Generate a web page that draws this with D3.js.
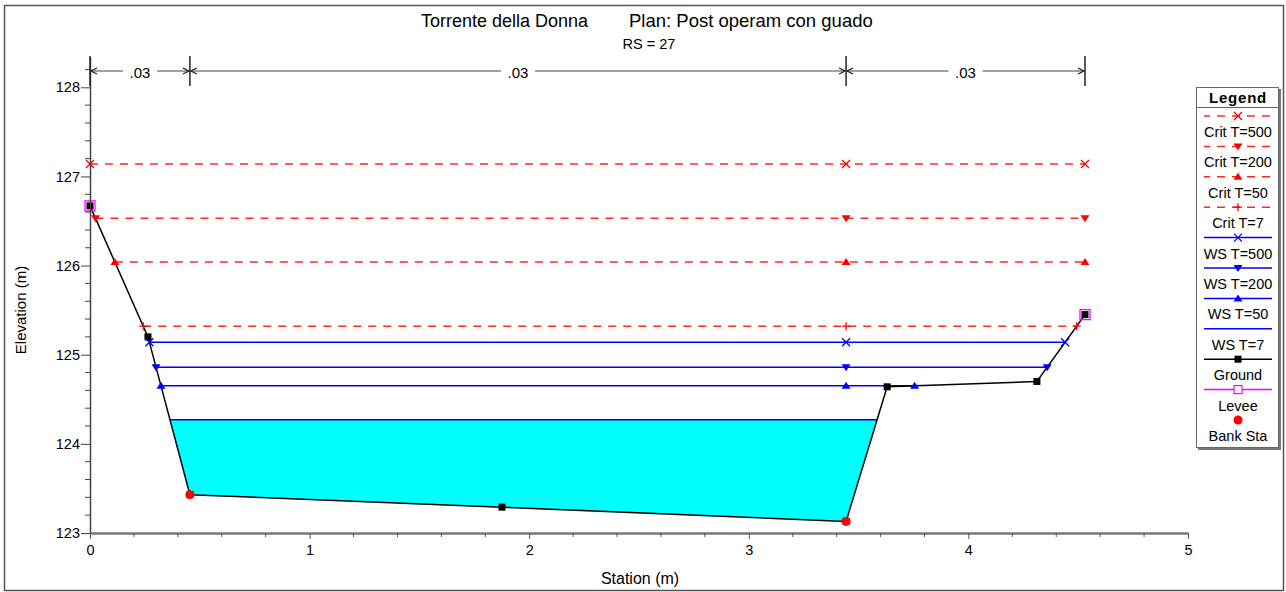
<!DOCTYPE html>
<html><head><meta charset="utf-8">
<script src="https://cdn.jsdelivr.net/npm/d3@7"></script>
<style>body{margin:0;background:#fff}svg{display:block;font-family:"Liberation Sans",Arial,sans-serif}</style>
</head><body><svg id="c" width="1286" height="592"></svg>
<script>
// ---- data ----
const groundSta = [0, 0.264, 0.455, 1.876, 3.443, 3.63, 4.312, 4.531];
const groundElev = [126.67, 125.20, 123.43, 123.29, 123.13, 124.64, 124.70, 125.45];
const levees = [[0, 126.67], [4.531, 125.45]];
const bankSta = [0.455, 3.443];
const nStations = [0, 0.455, 3.443, 4.531];
const nValues = [".03", ".03", ".03"];
const profileNames = ["Crit T=500", "Crit T=200", "Crit T=50", "Crit T=7", "WS T=500", "WS T=200", "WS T=50", "WS T=7"];
const profileElev = [127.14, 126.53, 126.04, 125.32, 125.14, 124.86, 124.651, 124.27];
const profileKind = ["crit", "crit", "crit", "crit", "ws", "ws", "ws", "ws"];
const profileMarker = ["x", "down", "up", "plus", "x", "down", "up", "none"];
const xTicks = [0, 1, 2, 3, 4, 5];
const yTicks = [123, 124, 125, 126, 127, 128];
const legendNames = ["Crit T=500", "Crit T=200", "Crit T=50", "Crit T=7", "WS T=500", "WS T=200", "WS T=50", "WS T=7", "Ground", "Levee", "Bank Sta"];

// ---- setup ----
const svg = d3.select("#c");
const x = d3.scaleLinear().domain([0, 5]).range([90, 1188]);
const y = d3.scaleLinear().domain([123, 128.34]).range([533, 57]);
const ground = groundSta.map((s, i) => [s, groundElev[i]]);

svg.append("rect").attr("x", 4.5).attr("y", 5.5).attr("width", 1279).attr("height", 585)
  .attr("fill", "none").attr("stroke", "#555").attr("stroke-width", 1.5);

// titles
svg.append("text").attr("x", 421).attr("y", 27).attr("font-size", 18).text("Torrente della Donna");
svg.append("text").attr("x", 629).attr("y", 27).attr("font-size", 18.5).text("Plan: Post operam con guado");
svg.append("text").attr("x", 649).attr("y", 49).attr("font-size", 14.5).attr("text-anchor", "middle").text("RS = 27");

// intersections
function leftEnd(h) {
  if (ground[0][1] <= h) return ground[0][0];
  for (let i = 0; i < ground.length - 1; i++) {
    const a = ground[i], b = ground[i + 1];
    if (a[1] > h && b[1] <= h) return a[0] + (a[1] - h) / (a[1] - b[1]) * (b[0] - a[0]);
  }
}
function rightEnd(h) {
  const n = ground.length;
  if (ground[n - 1][1] <= h) return ground[n - 1][0];
  for (let i = n - 1; i > 0; i--) {
    const a = ground[i], b = ground[i - 1];
    if (a[1] > h && b[1] <= h) return a[0] + (a[1] - h) / (a[1] - b[1]) * (b[0] - a[0]);
  }
}

const g = svg.append("g");
// water fill for lowest WS
{
  const i = profileNames.indexOf("WS T=7");
  const h = profileElev[i], xl = leftEnd(h), xr = rightEnd(h);
  const pts = [[xl, h]].concat(ground.filter(p => p[0] > xl && p[0] < xr)).concat([[xr, h]]);
  g.append("path").attr("d", d3.line().x(d => x(d[0])).y(d => y(d[1]))(pts) + "Z").attr("fill", "#00FFFF");
}

// markers
function marker(sel, type, cx, cy, color) {
  const s = 4;
  if (type === "x") {
    sel.append("path").attr("d", `M${cx - s},${cy - s}L${cx + s},${cy + s}M${cx - s},${cy + s}L${cx + s},${cy - s}`)
      .attr("stroke", color).attr("stroke-width", 1.3).attr("fill", "none");
  } else if (type === "plus") {
    sel.append("path").attr("d", `M${cx - s},${cy}L${cx + s},${cy}M${cx},${cy - s}L${cx},${cy + s}`)
      .attr("stroke", color).attr("stroke-width", 1.3).attr("fill", "none");
  } else if (type === "down") {
    sel.append("path").attr("d", `M${cx - 4.5},${cy - 3}L${cx + 4.5},${cy - 3}L${cx},${cy + 4}Z`).attr("fill", color);
  } else if (type === "up") {
    sel.append("path").attr("d", `M${cx - 4.5},${cy + 3}L${cx + 4.5},${cy + 3}L${cx},${cy - 4}Z`).attr("fill", color);
  } else if (type === "square") {
    sel.append("rect").attr("x", cx - 3.5).attr("y", cy - 3.5).attr("width", 7).attr("height", 7).attr("fill", color);
  } else if (type === "osquare") {
    sel.append("rect").attr("x", cx - 5).attr("y", cy - 5).attr("width", 10).attr("height", 10)
      .attr("fill", "none").attr("stroke", color).attr("stroke-width", 1.3);
  } else if (type === "dot") {
    sel.append("circle").attr("cx", cx).attr("cy", cy).attr("r", 4.5).attr("fill", color);
  }
}
const critColor = "#FF0000", wsColor = "#0000FF";

// profile lines
profileNames.forEach((name, i) => {
  const h = profileElev[i], xl = leftEnd(h), xr = rightEnd(h);
  const col = profileKind[i] === "crit" ? critColor : wsColor;
  const ln = g.append("line").attr("x1", x(xl)).attr("x2", x(xr)).attr("y1", y(h)).attr("y2", y(h))
    .attr("stroke", col).attr("stroke-width", 1.5);
  if (profileKind[i] === "crit") ln.attr("stroke-dasharray", "8,7").attr("stroke-opacity", 0.85);
});

// ground
g.append("path").attr("d", d3.line().x(d => x(d[0])).y(d => y(d[1]))(ground))
  .attr("fill", "none").attr("stroke", "#000").attr("stroke-width", 1.5);

// profile markers
profileNames.forEach((name, i) => {
  if (profileMarker[i] === "none") return;
  const h = profileElev[i], xl = leftEnd(h), xr = rightEnd(h);
  const col = profileKind[i] === "crit" ? critColor : wsColor;
  [xl, bankSta[1], xr].forEach(s => marker(g, profileMarker[i], x(s), y(h), col));
});

levees.forEach(p => marker(g, "osquare", x(p[0]), y(p[1]), "#FF00FF"));
ground.forEach(p => marker(g, "square", x(p[0]), y(p[1]), "#000"));
bankSta.forEach(s => {
  const idx = groundSta.indexOf(s);
  marker(g, "dot", x(s), y(groundElev[idx]), "#FF0000");
});

// axes
const ya = svg.append("g").attr("transform", "translate(90,0)")
  .call(d3.axisLeft(y).tickValues(yTicks).tickFormat(d3.format("d")).tickSize(9).tickSizeOuter(0));
const yminor = d3.range(123, 128.3, 0.2).filter(v => Math.abs(v - Math.round(v)) > 0.01);
ya.selectAll(".minor").data(yminor).enter().append("line").attr("class", "minor")
  .attr("x1", -5).attr("x2", 0).attr("y1", d => y(d)).attr("y2", d => y(d)).attr("stroke", "#444");
ya.select(".domain").attr("stroke", "#444").attr("stroke-width", 1.5);
ya.selectAll(".tick line").attr("stroke", "#444");
ya.selectAll("text").attr("font-size", 14.5).attr("font-family", "Liberation Sans, Arial").attr("fill", "#000").attr("x", -10);

const xa = svg.append("g").attr("transform", "translate(0,533)")
  .call(d3.axisBottom(x).tickValues(xTicks).tickFormat(d3.format("d")).tickSize(6).tickSizeOuter(0));
const xminor = d3.range(0, 5.01, 0.2).filter(v => Math.abs(v - Math.round(v)) > 0.01);
xa.selectAll(".minor").data(xminor).enter().append("line").attr("class", "minor")
  .attr("y1", 0).attr("y2", 4).attr("x1", d => x(d)).attr("x2", d => x(d)).attr("stroke", "#555");
xa.select(".domain").attr("stroke", "#777").attr("stroke-width", 2.5);
xa.selectAll(".tick line").attr("stroke", "#555");
xa.selectAll("text").attr("font-size", 14.5).attr("font-family", "Liberation Sans, Arial").attr("fill", "#000").attr("y", 12);

svg.append("text").attr("transform", "translate(26,310) rotate(-90)").attr("text-anchor", "middle")
  .attr("font-size", 15).text("Elevation (m)");
svg.append("text").attr("x", 640).attr("y", 584).attr("text-anchor", "middle").attr("font-size", 16).text("Station (m)");

// n-value bar
const nb = svg.append("g").attr("stroke", "#222").attr("fill", "none");
nStations.forEach(s => nb.append("line").attr("x1", x(s)).attr("x2", x(s)).attr("y1", 56).attr("y2", 86).attr("stroke-width", 1.5));
nValues.forEach((v, i) => {
  const a = x(nStations[i]), b = x(nStations[i + 1]), m = (a + b) / 2, yy = 71;
  const half = 17;
  nb.append("line").attr("x1", a + 1).attr("x2", m - half).attr("y1", yy).attr("y2", yy).attr("stroke", "#444");
  nb.append("line").attr("x1", m + half).attr("x2", b - 1).attr("y1", yy).attr("y2", yy).attr("stroke", "#444");
  nb.append("path").attr("d", `M${a + 7},${yy - 3}L${a + 1},${yy}L${a + 7},${yy + 3}`).attr("stroke-width", 1.3);
  nb.append("path").attr("d", `M${b - 7},${yy - 3}L${b - 1},${yy}L${b - 7},${yy + 3}`).attr("stroke-width", 1.3);
  svg.append("text").attr("x", m).attr("y", 77.5).attr("text-anchor", "middle").attr("font-size", 15).text(v);
});

// legend
const lg = svg.append("g");
lg.append("rect").attr("x", 1198).attr("y", 89).attr("width", 83).attr("height", 361).attr("fill", "#777");
lg.append("rect").attr("x", 1196.5).attr("y", 87.5).attr("width", 82).attr("height", 360).attr("fill", "#fff").attr("stroke", "#666");
lg.append("line").attr("x1", 1196.5).attr("x2", 1278.5).attr("y1", 107.5).attr("y2", 107.5).attr("stroke", "#666");
lg.append("text").attr("x", 1238).attr("y", 103).attr("text-anchor", "middle").attr("font-size", 15).attr("font-weight", "bold").attr("letter-spacing", 0.8).text("Legend");
legendNames.forEach((name, i) => {
  const ly = 116 + i * 30.4;
  const pi = profileNames.indexOf(name);
  if (pi >= 0) {
    const col = profileKind[pi] === "crit" ? critColor : wsColor;
    const l = lg.append("line").attr("x1", 1204).attr("x2", 1272).attr("y1", ly).attr("y2", ly).attr("stroke", col).attr("stroke-width", 1.5);
    if (profileKind[pi] === "crit") l.attr("stroke-dasharray", "8,7").attr("stroke-dashoffset", 2).attr("stroke-opacity", 0.85);
    if (profileMarker[pi] !== "none") marker(lg, profileMarker[pi], 1238, ly, col);
  } else if (name === "Ground") {
    lg.append("line").attr("x1", 1204).attr("x2", 1272).attr("y1", ly).attr("y2", ly).attr("stroke", "#000").attr("stroke-width", 1.5);
    marker(lg, "square", 1238, ly, "#000");
  } else if (name === "Levee") {
    lg.append("line").attr("x1", 1204).attr("x2", 1272).attr("y1", ly).attr("y2", ly).attr("stroke", "#FF00FF").attr("stroke-width", 1.5);
    lg.append("rect").attr("x", 1234).attr("y", ly - 4).attr("width", 8).attr("height", 8).attr("fill", "#fff").attr("stroke", "#FF00FF").attr("stroke-width", 1.2);
  } else {
    marker(lg, "dot", 1238, ly, "#FF0000");
  }
  lg.append("text").attr("x", 1238).attr("y", ly + 21).attr("text-anchor", "middle").attr("font-size", 14.5).text(name);
});
</script></body></html>
